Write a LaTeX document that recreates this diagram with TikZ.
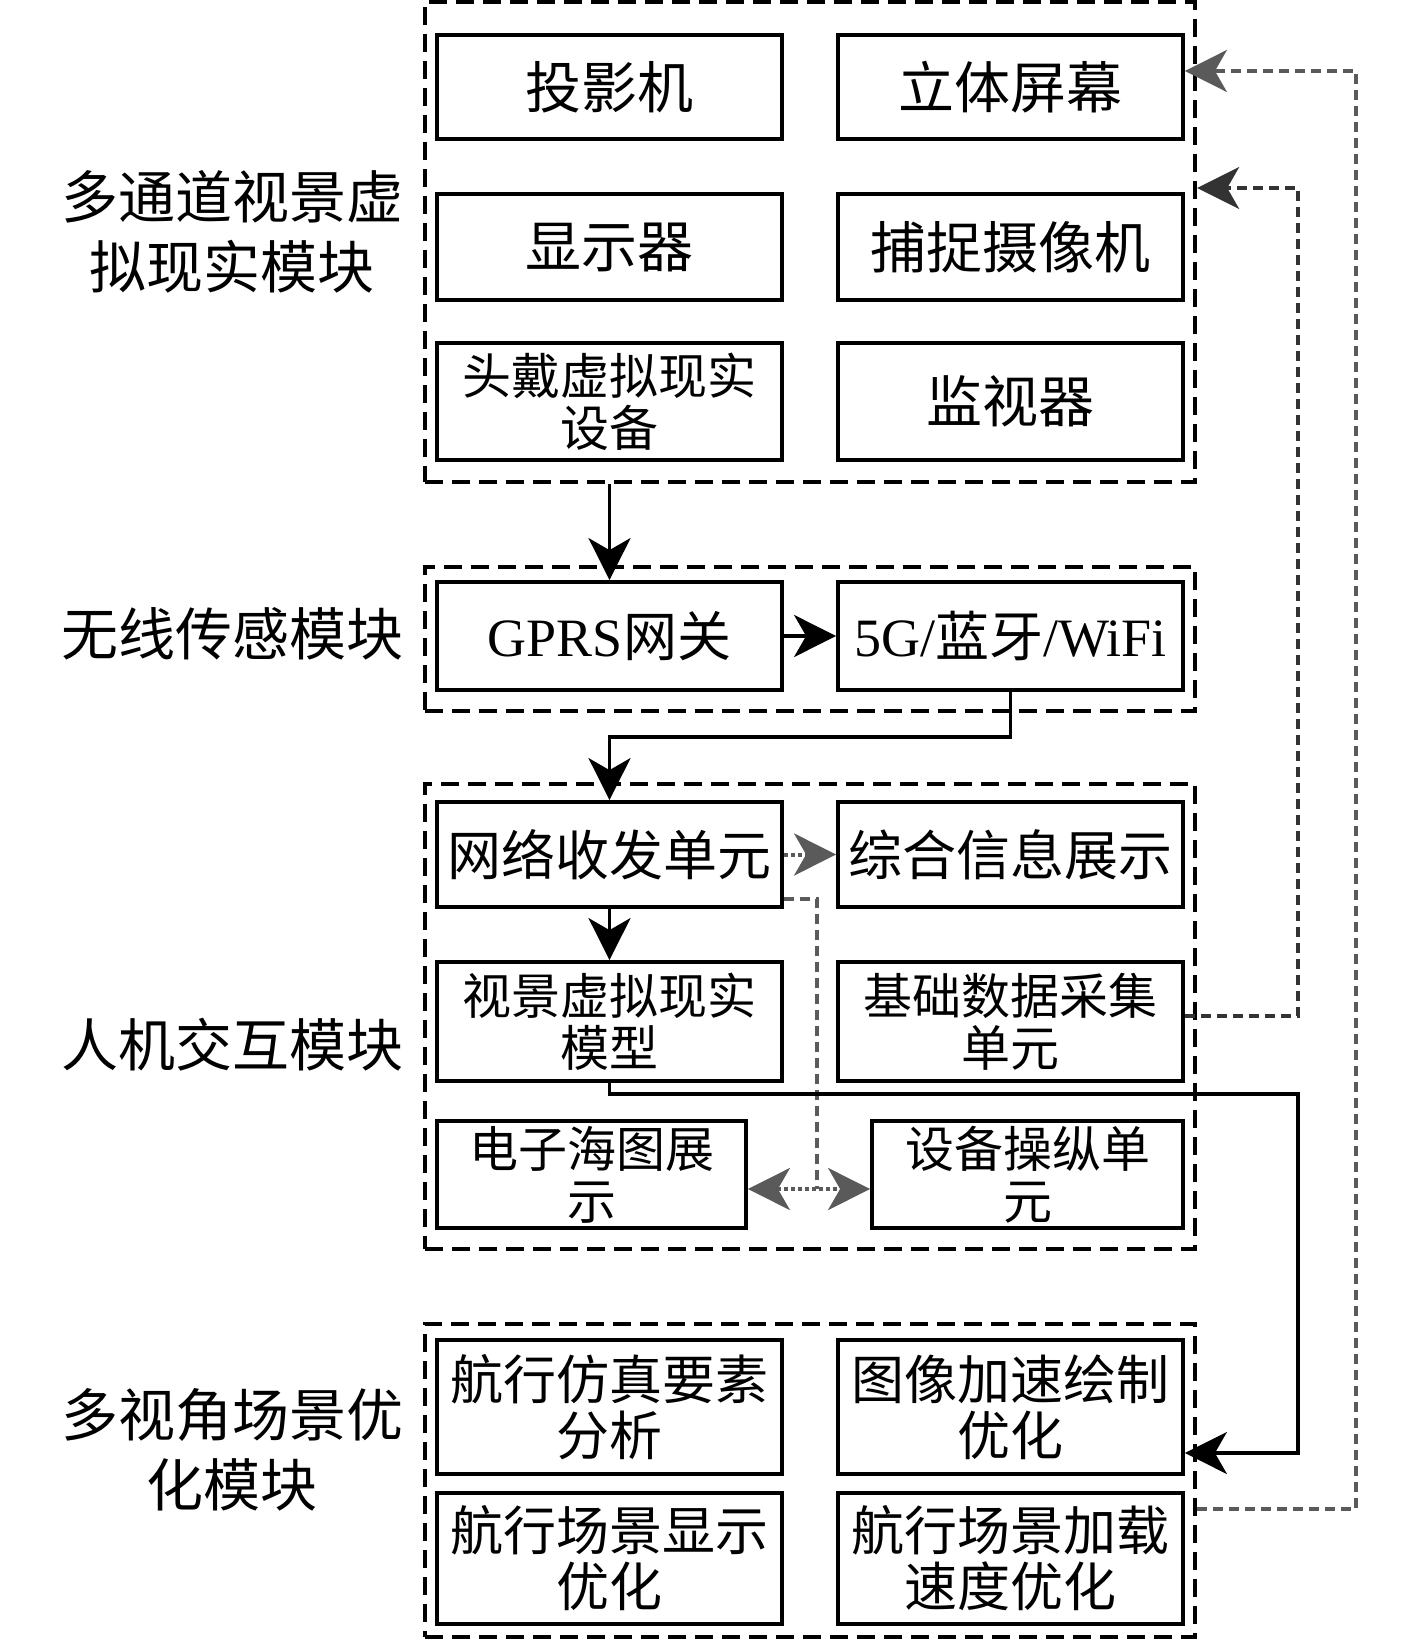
\documentclass[tikz,border=0pt]{standalone}
\usepackage{fontspec}
\setmainfont{Liberation Serif}
\newfontfamily\cjk{Noto Sans CJK SC}
\usetikzlibrary{arrows.meta}
\definecolor{gline}{HTML}{5A5A5A}
\definecolor{dline}{HTML}{333333}
\begin{document}
\begin{tikzpicture}[x=0.5pt,y=-0.5pt,
  box/.style={draw=black, line width=1.9pt, fill=white, minimum width=172.5pt, align=center, inner sep=0pt},
  fbig/.style={font=\cjk\fontsize{28}{30}\selectfont},
  fmed/.style={font=\cjk\fontsize{27}{29}\selectfont},
  fsm/.style={font=\cjk\fontsize{24.5}{26}\selectfont},
  fbot/.style={font=\cjk\fontsize{26.5}{28}\selectfont},
  lbl/.style={align=center, inner sep=0pt, font=\cjk\fontsize{28.5}{35}\selectfont},
  grp/.style={draw=black, line width=2.2pt, dash pattern=on 9pt off 4.5pt, inner sep=0pt, minimum width=385pt},
  conn/.style={draw=black, line width=1.8pt},
  arr/.style={-{Stealth[length=21pt,width=21pt,inset=6pt]}},
  darr/.style={{Stealth[length=21pt,width=21pt,inset=6pt]}-{Stealth[length=21pt,width=21pt,inset=6pt]}},
  gdash/.style={draw=gline, line width=1.8pt, dash pattern=on 5pt off 3pt},
  ddash/.style={draw=dline, line width=1.8pt, dash pattern=on 5pt off 3pt},
  gdot/.style={draw=gline, line width=2pt, dash pattern=on 2pt off 1.5pt}
]
\useasboundingbox (0,0) rectangle (1417,1642);
% group frames
\node[grp, minimum height=240pt] (g1) at (810,242) {};
\node[grp, minimum height=72pt] (g2) at (810,639) {};
\node[grp, minimum height=232.5pt] (g3) at (810,1016.5) {};
\node[grp, minimum height=156.5pt] (g4) at (810,1480.5) {};
% module labels
\node[lbl] (l1) at (232,232) {多通道视景虚\\拟现实模块};
\node[lbl] (l2) at (232,634) {无线传感模块};
\node[lbl] (l3) at (232,1045) {人机交互模块};
\node[lbl] (l4) at (232,1449.5) {多视角场景优\\化模块};
% top group
\node[box, fbig, minimum height=52pt] (p1) at (609.5,87) {投影机};
\node[box, fbig, minimum height=52pt] (p2) at (1010.5,87) {立体屏幕};
\node[box, fbig, minimum height=53pt] (p3) at (609.5,247) {显示器};
\node[box, fbig, minimum height=53pt] (p4) at (1010.5,247) {捕捉摄像机};
\node[box, fsm, minimum height=58.5pt] (p5) at (609.5,401.5) {头戴虚拟现实\\设备};
\node[box, fbig, minimum height=58.5pt] (p6) at (1010.5,401.5) {监视器};
% wireless group
\node[box, fmed, minimum height=54pt] (w1) at (609.5,636) {{\rmfamily GPRS}网关};
\node[box, fmed, minimum height=54pt] (w2) at (1010.5,636) {{\rmfamily 5G/}蓝牙{\rmfamily /WiFi}};
% human-machine group
\node[box, fmed, minimum height=52.5pt] (h1) at (609.5,854.5) {网络收发单元};
\node[box, fmed, minimum height=52.5pt] (h2) at (1010.5,854.5) {综合信息展示};
\node[box, fsm, minimum height=59.5pt] (h3) at (609.5,1021.5) {视景虚拟现实\\模型};
\node[box, fsm, minimum height=59.5pt] (h4) at (1010.5,1021.5) {基础数据采集\\单元};
\node[box, fsm, minimum width=154.5pt, minimum height=53.5pt] (h5) at (591.5,1174.5) {电子海图展\\示};
\node[box, fsm, minimum width=155.5pt, minimum height=53.5pt] (h6) at (1027.5,1174.5) {设备操纵单\\元};
% optimisation group
\node[box, fbot, minimum height=67pt] (b1) at (609.5,1407) {航行仿真要素\\分析};
\node[box, fbot, minimum height=67pt] (b2) at (1010.5,1407) {图像加速绘制\\优化};
\node[box, fbot, minimum height=65.5pt] (b3) at (609.5,1558.5) {航行场景显示\\优化};
\node[box, fbot, minimum height=65.5pt] (b4) at (1010.5,1558.5) {航行场景加载\\速度优化};
% helper coordinates
\coordinate (j1) at (800,737);
\coordinate (j2) at (1298,1094);
\coordinate (j3) at (1298,1453);
\coordinate (k1) at (817,899);
\coordinate (k2) at (817,1189);
\coordinate (m1) at (1298,1016);
\coordinate (m2) at (1298,188);
\coordinate (n1) at (1356,1509);
\coordinate (n2) at (1356,71);
% connectors
\draw[conn, arr] (g1.south -| w1.north) -- (w1.north);
\draw[conn, arr] (w1.east) -- (w2.west);
\draw[conn, arr] (w2.south) -- (w2.south |- j1) -- (h1.north |- j1) -- (h1.north);
\draw[gdot, arr] (h1.east) -- (h2.west);
\draw[conn, arr] (h1.south) -- (h3.north);
\draw[gdash] (h1.east |- k1) -- (k1) -- (k2);
\draw[gdot, darr] (h5.east |- k2) -- (h6.west |- k2);
\draw[conn, arr] (h3.south) -- (h3.south |- j2) -- (j2) -- (j3) -- (b2.east |- j3);
\draw[ddash, arr] (h4.east |- m1) -- (m1) -- (m2) -- (g1.east |- m2);
\draw[gdash, arr] (g4.east |- n1) -- (n1) -- (n2) -- (p2.east |- n2);
\end{tikzpicture}
\end{document}
